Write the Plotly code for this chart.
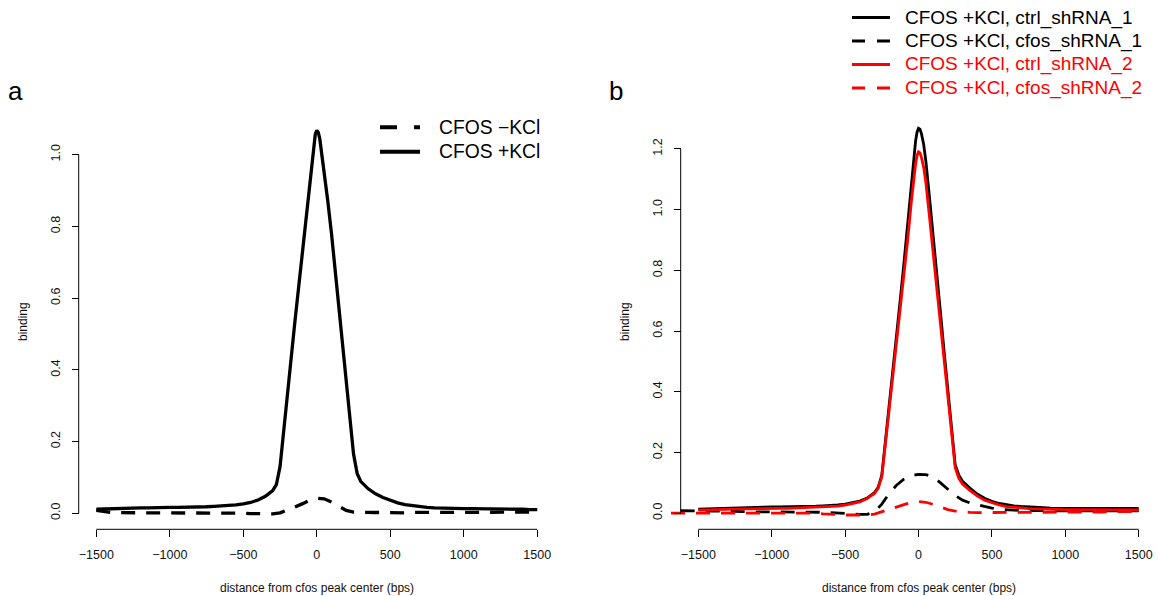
import plotly.graph_objects as go

W, H = 1158, 596
FONT = "Liberation Sans, Arial, sans-serif"

# ---------------- data: panel a ----------------
x_a_kcl = [-1500, -1450, -1400, -1350, -1300, -1250, -1200, -1150, -1100, -1050,
           -1000, -950, -900, -850, -800, -750, -700, -650, -600, -550, -500,
           -450, -400, -350, -300, -275, -250, -225, -200, -175, -150, -125,
           -100, -75, -50, -35, -20, -10, 0, 10, 20, 35, 50, 75, 100, 125, 150,
           175, 200, 225, 250, 275, 300, 350, 400, 450, 500, 550, 600, 650, 700,
           750, 800, 850, 900, 950, 1000, 1050, 1100, 1150, 1200, 1250, 1300,
           1350, 1400, 1450, 1500]
y_a_kcl = [0.011, 0.012, 0.013, 0.013, 0.014, 0.014, 0.015, 0.015, 0.016, 0.016,
           0.016, 0.016, 0.016, 0.017, 0.017, 0.018, 0.019, 0.020, 0.021, 0.023, 0.026,
           0.030, 0.037, 0.047, 0.063, 0.080, 0.130, 0.235, 0.335, 0.430, 0.530, 0.625,
           0.720, 0.820, 0.920, 0.975, 1.030, 1.058, 1.068, 1.062, 1.045, 1.000, 0.955,
           0.870, 0.780, 0.680, 0.575, 0.470, 0.370, 0.270, 0.165, 0.110, 0.088, 0.068,
           0.054, 0.044, 0.036, 0.029, 0.024, 0.021, 0.018, 0.016, 0.015, 0.014, 0.013,
           0.013, 0.013, 0.013, 0.013, 0.013, 0.013, 0.012, 0.012, 0.012, 0.011, 0.010,
           0.010]

x_a_nokcl = [-1500, -1450, -1400, -1350, -1300, -1250, -1200, -1150, -1100, -1050,
             -1000, -950, -900, -850, -800, -750, -700, -650, -600, -550, -500,
             -450, -400, -350, -300, -250, -200, -150, -100, -50, 0, 50, 100, 150,
             200, 250, 300, 350, 400, 450, 500, 550, 600, 650, 700, 750, 800, 850,
             900, 950, 1000, 1050, 1100, 1150, 1200, 1250, 1300, 1350, 1400, 1450, 1500]
y_a_nokcl = [0.008, 0.004, 0.002, 0.002, 0.001, 0.001, 0.001, 0.001, 0.001, 0.000,
             0.000, 0.001, 0.001, 0.002, 0.002, 0.002, 0.002, 0.002, 0.001, 0.001, 0.000,
             -0.001, -0.002, -0.002, -0.002, 0.001, 0.008, 0.017, 0.026, 0.036, 0.042,
             0.040, 0.031, 0.019, 0.008, 0.003, 0.002, 0.002, 0.002, 0.002, 0.001, 0.001,
             0.001, 0.002, 0.002, 0.002, 0.002, 0.003, 0.003, 0.003, 0.003, 0.003, 0.003,
             0.003, 0.003, 0.003, 0.003, 0.003, 0.002, 0.003, 0.005]

# ---------------- data: panel b ----------------
x_b_ctrl = [-1500, -1450, -1400, -1350, -1300, -1250, -1200, -1150, -1100, -1050,
            -1000, -950, -900, -850, -800, -750, -700, -650, -600, -550, -500,
            -450, -400, -350, -300, -275, -250, -225, -200, -175, -150, -125,
            -100, -75, -50, -35, -20, -10, 0, 10, 20, 35, 50, 75, 100, 125, 150,
            175, 200, 225, 250, 275, 300, 350, 400, 450, 500, 550, 600, 650, 700,
            750, 800, 850, 900, 950, 1000, 1050, 1100, 1150, 1200, 1250, 1300,
            1350, 1400, 1450, 1500]
y_b_ctrl1 = [0.013, 0.014, 0.015, 0.015, 0.016, 0.017, 0.018, 0.019, 0.020, 0.020,
             0.021, 0.021, 0.021, 0.021, 0.022, 0.022, 0.023, 0.024, 0.025, 0.027, 0.030,
             0.034, 0.040, 0.050, 0.068, 0.085, 0.125, 0.240, 0.350, 0.460, 0.580, 0.700,
             0.820, 0.950, 1.080, 1.160, 1.225, 1.255, 1.268, 1.265, 1.250, 1.215, 1.160,
             1.040, 0.920, 0.790, 0.660, 0.530, 0.400, 0.280, 0.160, 0.125, 0.105, 0.083,
             0.063, 0.049, 0.039, 0.032, 0.027, 0.024, 0.022, 0.020, 0.019, 0.018, 0.017,
             0.017, 0.017, 0.017, 0.017, 0.017, 0.016, 0.016, 0.016, 0.016, 0.016, 0.016,
             0.016]
y_b_ctrl2 = [0.010, 0.011, 0.011, 0.012, 0.012, 0.013, 0.014, 0.014, 0.015, 0.015,
             0.016, 0.016, 0.016, 0.017, 0.017, 0.018, 0.018, 0.019, 0.020, 0.023, 0.027,
             0.031, 0.037, 0.048, 0.065, 0.082, 0.120, 0.230, 0.340, 0.445, 0.555, 0.665,
             0.775, 0.895, 1.020, 1.090, 1.150, 1.178, 1.190, 1.187, 1.172, 1.140, 1.090,
             0.975, 0.860, 0.740, 0.620, 0.500, 0.380, 0.265, 0.150, 0.115, 0.096, 0.075,
             0.057, 0.043, 0.034, 0.027, 0.022, 0.019, 0.017, 0.015, 0.014, 0.013, 0.012,
             0.012, 0.012, 0.012, 0.012, 0.012, 0.011, 0.011, 0.011, 0.011, 0.011, 0.011,
             0.011]

x_b_cfos1 = [-1620, -1550, -1500, -1450, -1400, -1350, -1300, -1250, -1200, -1150,
             -1100, -1050, -1000, -950, -900, -850, -800, -750, -700, -650, -600,
             -550, -500, -450, -400, -350, -300, -250, -200, -150, -100, -50, 0,
             50, 100, 150, 200, 250, 300, 350, 400, 450, 500, 550, 600, 650, 700,
             750, 800, 850, 900, 950, 1000, 1050, 1100, 1150, 1200, 1250, 1300,
             1350, 1400, 1450, 1500]
y_b_cfos1 = [0.008, 0.008, 0.008, 0.007, 0.007, 0.006, 0.006, 0.006, 0.005, 0.005,
             0.005, 0.005, 0.005, 0.005, 0.005, 0.005, 0.005, 0.004, 0.004, 0.003, 0.002,
             0.000, -0.002, -0.003, -0.004, -0.004, 0.004, 0.030, 0.065, 0.092, 0.112,
             0.124, 0.128, 0.127, 0.119, 0.100, 0.078, 0.058, 0.043, 0.034, 0.028, 0.022,
             0.017, 0.013, 0.011, 0.010, 0.009, 0.009, 0.008, 0.008, 0.008, 0.008, 0.008,
             0.008, 0.008, 0.008, 0.008, 0.008, 0.008, 0.008, 0.008, 0.008, 0.008]

x_b_cfos2 = [-1686, -1620, -1550, -1500, -1450, -1400, -1350, -1300, -1250, -1200,
             -1150, -1100, -1050, -1000, -950, -900, -850, -800, -750, -700, -650,
             -600, -550, -500, -450, -400, -350, -300, -250, -200, -150, -100, -50,
             0, 50, 100, 150, 200, 250, 300, 350, 400, 450, 500, 550, 600, 650, 700,
             750, 800, 850, 900, 950, 1000, 1050, 1100, 1150, 1200, 1250, 1300,
             1350, 1400, 1450, 1500]
y_b_cfos2 = [0.000, 0.000, 0.001, 0.001, 0.001, 0.002, 0.002, 0.002, 0.002, 0.002,
             0.002, 0.002, 0.002, 0.001, 0.001, 0.001, 0.001, 0.000, 0.000, 0.000, -0.002,
             -0.004, -0.005, -0.006, -0.006, -0.006, -0.006, -0.003, 0.004, 0.012, 0.020,
             0.028, 0.035, 0.038, 0.036, 0.029, 0.020, 0.012, 0.007, 0.004, 0.003, 0.002,
             0.002, 0.002, 0.002, 0.003, 0.003, 0.003, 0.003, 0.003, 0.004, 0.004, 0.004,
             0.004, 0.004, 0.004, 0.004, 0.004, 0.004, 0.005, 0.005, 0.005, 0.005, 0.005]

# ---------------- tick labels ----------------
x_tickvals = [-1500, -1000, -500, 0, 500, 1000, 1500]
x_ticktext = ["\u22121500", "\u22121000", "\u2212500", "0", "500", "1000", "1500"]
ya_tickvals = [0.0, 0.2, 0.4, 0.6, 0.8, 1.0]
ya_ticktext = ["0.0", "0.2", "0.4", "0.6", "0.8", "1.0"]
yb_tickvals = [0.0, 0.2, 0.4, 0.6, 0.8, 1.0, 1.2]
yb_ticktext = ["0.0", "0.2", "0.4", "0.6", "0.8", "1.0", "1.2"]

legend_a = ["CFOS \u2212KCl", "CFOS +KCl"]
legend_b = ["CFOS +KCl, ctrl_shRNA_1", "CFOS +KCl, cfos_shRNA_1",
            "CFOS +KCl, ctrl_shRNA_2", "CFOS +KCl, cfos_shRNA_2"]
xlab = "distance from cfos peak center (bps)"
ylab = "binding"

# ---------------- geometry (pixels) ----------------
def fx(px):
    return px / W

def fy(py):
    return 1 - py / H

PANELS = {
    "a": dict(xl=78.7, xr=554.9, dom_l=66.0, dom_r=556.0, y0=513.2, ky=358.5,
              top=114.0, bot=540.0, xaxis_py=529.3),
    "b": dict(xl=680.7, xr=1156.3, dom_l=664.0, dom_r=1157.5, y0=513.2, ky=303.6,
              top=112.0, bot=540.0, xaxis_py=529.3),
}

def axis_ranges(p):
    kx = (p["xr"] - p["xl"]) / 3240.0
    xr = [-1620 - (p["xl"] - p["dom_l"]) / kx, 1620 + (p["dom_r"] - p["xr"]) / kx]
    yr = [-(p["bot"] - p["y0"]) / p["ky"], (p["y0"] - p["top"]) / p["ky"]]
    return xr, yr

fig = go.Figure()

LW_A = 3.3
LW_B = 2.8
DASH = "14px,11px"

fig.add_trace(go.Scatter(x=x_a_nokcl, y=y_a_nokcl, mode="lines", xaxis="x", yaxis="y",
                         line=dict(color="black", width=LW_A, dash=DASH), showlegend=False))
fig.add_trace(go.Scatter(x=x_a_kcl, y=y_a_kcl, mode="lines", xaxis="x", yaxis="y",
                         line=dict(color="black", width=LW_A), showlegend=False))

fig.add_trace(go.Scatter(x=x_b_ctrl, y=y_b_ctrl1, mode="lines", xaxis="x2", yaxis="y2",
                         line=dict(color="black", width=LW_B), showlegend=False))
fig.add_trace(go.Scatter(x=x_b_cfos1, y=y_b_cfos1, mode="lines", xaxis="x2", yaxis="y2",
                         line=dict(color="black", width=LW_B, dash=DASH), showlegend=False))
fig.add_trace(go.Scatter(x=x_b_ctrl, y=y_b_ctrl2, mode="lines", xaxis="x2", yaxis="y2",
                         line=dict(color="#FF0000", width=LW_B), showlegend=False))
fig.add_trace(go.Scatter(x=x_b_cfos2, y=y_b_cfos2, mode="lines", xaxis="x2", yaxis="y2",
                         line=dict(color="#FF0000", width=LW_B, dash=DASH), showlegend=False))

TICKFONT = dict(family=FONT, size=12.5, color="#111111")
TITLEFONT = dict(family=FONT, size=12, color="#111111")

layout = dict(
    width=W, height=H, margin=dict(l=0, r=0, t=0, b=0),
    paper_bgcolor="white", plot_bgcolor="white",
    font=dict(family=FONT, color="black"),
    showlegend=False,
)

shapes = []
annotations = []
for key, xa, ya, yvals, ytext in [("a", "xaxis", "yaxis", ya_tickvals, ya_ticktext),
                                   ("b", "xaxis2", "yaxis2", yb_tickvals, yb_ticktext)]:
    p = PANELS[key]
    xr, yr = axis_ranges(p)
    xid = "x" if key == "a" else "x2"
    yid = "y" if key == "a" else "y2"
    layout[xa] = dict(domain=[fx(p["dom_l"]), fx(p["dom_r"])], range=xr,
                      anchor="free", position=fy(p["xaxis_py"]),
                      showgrid=False, zeroline=False, showline=False,
                      ticks="outside", ticklen=7, tickwidth=1, tickcolor="black",
                      tickvals=x_tickvals, ticktext=x_ticktext, tickfont=TICKFONT,
                      ticklabelstandoff=7, fixedrange=True)
    layout[ya] = dict(domain=[fy(p["bot"]), fy(p["top"])], range=yr,
                      anchor="free", position=fx(p["xl"]),
                      showgrid=False, zeroline=False, showline=False,
                      ticks="outside", ticklen=7, tickwidth=1, tickcolor="black",
                      tickvals=yvals, ticktext=ytext, tickfont=TICKFONT,
                      tickangle=-90, ticklabelstandoff=7, fixedrange=True)
    y_axis_val = -(p["xaxis_py"] - p["y0"]) / p["ky"]
    shapes.append(dict(type="line", xref=xid, yref=yid, x0=x_tickvals[0], x1=x_tickvals[-1],
                       y0=y_axis_val, y1=y_axis_val, line=dict(color="black", width=1)))
    shapes.append(dict(type="line", xref=xid, yref=yid, x0=-1620, x1=-1620,
                       y0=yvals[0], y1=yvals[-1], line=dict(color="black", width=1)))
    annotations.append(dict(text=xlab, xref="paper", yref="paper",
                            x=fx((p["xl"] + p["xr"]) / 2), y=fy(588), xanchor="center",
                            yanchor="middle", showarrow=False, font=TITLEFONT))

annotations.append(dict(text=ylab, xref="paper", yref="paper", x=fx(22.5), y=fy(321.5),
                        textangle=-90, xanchor="center", yanchor="middle", showarrow=False,
                        font=TITLEFONT))
annotations.append(dict(text=ylab, xref="paper", yref="paper", x=fx(624.5), y=fy(321.5),
                        textangle=-90, xanchor="center", yanchor="middle", showarrow=False,
                        font=TITLEFONT))

for letter, px in [("a", 15.5), ("b", 616.0)]:
    annotations.append(dict(text=letter, xref="paper", yref="paper", x=fx(px), y=fy(91.5),
                            xanchor="center", yanchor="middle", showarrow=False,
                            font=dict(family=FONT, size=26, color="black")))

leg_a_rows = [127.3, 151.7]
leg_a_dash = ["17px,17px", "solid"]
for txt, py, dsh in zip(legend_a, leg_a_rows, leg_a_dash):
    shapes.append(dict(type="line", xref="paper", yref="paper", x0=fx(380), x1=fx(420),
                       y0=fy(py), y1=fy(py), line=dict(color="black", width=4, dash=dsh)))
    annotations.append(dict(text=txt, xref="paper", yref="paper", x=fx(437), y=fy(py),
                            xanchor="left", yanchor="middle", showarrow=False,
                            font=dict(family=FONT, size=19.3, color="black")))

leg_b_rows = [17.5, 41.0, 64.5, 88.0]
leg_b_col = ["black", "black", "#FF0000", "#FF0000"]
leg_b_dash = ["solid", "13px,12px", "solid", "13px,12px"]
for txt, py, col, dsh in zip(legend_b, leg_b_rows, leg_b_col, leg_b_dash):
    shapes.append(dict(type="line", xref="paper", yref="paper", x0=fx(852), x1=fx(890),
                       y0=fy(py), y1=fy(py), line=dict(color=col, width=2.8, dash=dsh)))
    annotations.append(dict(text=txt, xref="paper", yref="paper", x=fx(903), y=fy(py),
                            xanchor="left", yanchor="middle", showarrow=False,
                            font=dict(family=FONT, size=19, color=col)))

layout["shapes"] = shapes
layout["annotations"] = annotations
fig.update_layout(**layout)

fig.write_html("out.html", config=dict(displayModeBar=False, staticPlot=True))
